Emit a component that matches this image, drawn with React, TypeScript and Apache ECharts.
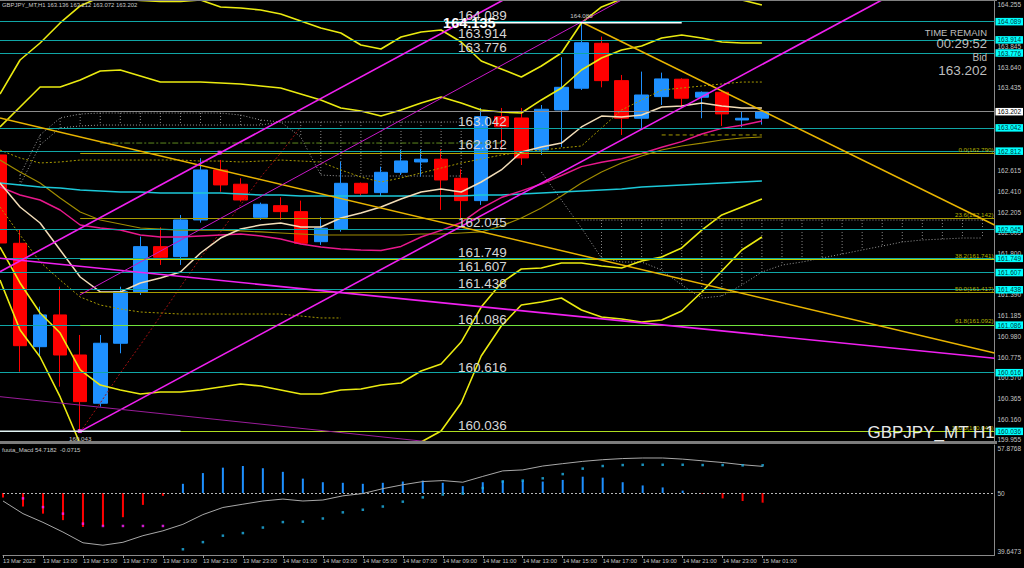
import React, { useEffect, useRef } from "react";
import * as echarts from "echarts";

// ---------------- data ----------------
const SYMBOL = "GBPJPY_MT";
const TIMEFRAME = "H1";
const TIMER = "00:29:52";
const MACD_NAME = "fuuta_Macd";
const MACD_READOUT = ["54.7182", "-0.0715"];

// bar index 0 = 13 Mar 2023 11:00, one bar per hour
const TIME_LABEL_INDEX = [0, 2, 4, 6, 8, 10, 12, 14, 16, 18, 20, 22, 24, 26, 28, 30, 32, 34, 36, 38];
const TIME_LABELS = [
  "13 Mar 2023", "13 Mar 13:00", "13 Mar 15:00", "13 Mar 17:00", "13 Mar 19:00", "13 Mar 21:00",
  "13 Mar 23:00", "14 Mar 01:00", "14 Mar 03:00", "14 Mar 05:00", "14 Mar 07:00", "14 Mar 09:00",
  "14 Mar 11:00", "14 Mar 13:00", "14 Mar 15:00", "14 Mar 17:00", "14 Mar 19:00", "14 Mar 21:00",
  "14 Mar 23:00", "15 Mar 01:00",
];

const OPEN = [162.772, 161.899, 160.877, 161.191, 160.795, 160.318, 160.911, 161.421, 161.866, 161.767, 162.130, 162.624, 162.483, 162.156, 162.271, 162.212, 161.915, 162.041, 162.492, 162.400, 162.601, 162.703, 162.730, 162.542, 162.321, 163.151, 163.138, 162.822, 163.217, 163.432, 163.876, 163.507, 163.135, 163.349, 163.521, 163.343, 163.392, 163.118, 163.136];
const HIGH = [162.790, 162.031, 161.273, 161.470, 160.993, 160.993, 161.470, 161.965, 162.057, 162.179, 162.740, 162.723, 162.542, 162.301, 162.354, 162.321, 162.156, 162.706, 162.500, 162.657, 162.822, 162.829, 162.829, 162.630, 163.237, 163.237, 163.237, 163.266, 163.738, 164.080, 163.942, 163.563, 163.596, 163.586, 163.530, 163.400, 163.400, 163.200, 163.212];
const LOW = [161.880, 160.630, 160.778, 160.482, 160.043, 160.284, 160.812, 161.388, 161.685, 161.685, 162.103, 162.409, 162.311, 162.130, 162.130, 161.890, 161.883, 162.014, 162.370, 162.367, 162.574, 162.558, 162.229, 162.130, 162.278, 162.820, 162.673, 162.772, 162.850, 163.415, 163.441, 162.970, 163.036, 163.266, 163.250, 163.135, 163.059, 163.046, 163.072];
const CLOSE = [161.902, 160.887, 161.191, 160.795, 160.334, 160.911, 161.421, 161.866, 161.761, 162.130, 162.624, 162.476, 162.327, 162.285, 162.212, 161.899, 162.048, 162.492, 162.394, 162.601, 162.713, 162.730, 162.525, 162.321, 163.151, 163.050, 162.743, 163.224, 163.441, 163.882, 163.507, 163.135, 163.365, 163.524, 163.333, 163.392, 163.178, 163.135, 163.202];

// Bollinger bands (middle = pink MA)
const BB_MID = [162.455, 162.376, 162.327, 162.228, 162.080, 162.050, 162.030, 161.981, 161.961, 161.961, 161.971, 161.981, 161.991, 161.971, 161.941, 161.892, 161.862, 161.843, 161.833, 161.828, 161.868, 161.961, 162.027, 162.104, 162.244, 162.351, 162.417, 162.485, 162.569, 162.657, 162.701, 162.734, 162.786, 162.848, 162.904, 162.979, 163.035, 163.067, 163.108];
const BB_UP2 = [163.049, 163.246, 163.444, 163.444, 163.513, 163.602, 163.612, 163.553, 163.493, 163.493, 163.493, 163.484, 163.474, 163.454, 163.434, 163.375, 163.316, 163.236, 163.207, 163.157, 163.217, 163.286, 163.345, 163.286, 163.217, 163.197, 163.187, 163.316, 163.434, 163.612, 163.731, 163.810, 163.849, 163.928, 163.958, 163.928, 163.889, 163.879, 163.879];
const BB_LO2 = [161.862, 161.507, 161.210, 161.012, 160.647, 160.498, 160.449, 160.409, 160.429, 160.429, 160.449, 160.479, 160.508, 160.488, 160.449, 160.409, 160.409, 160.449, 160.459, 160.498, 160.518, 160.637, 160.706, 160.923, 161.269, 161.507, 161.645, 161.655, 161.704, 161.704, 161.675, 161.655, 161.724, 161.764, 161.853, 162.030, 162.179, 162.258, 162.337];
const BB_UP3 = [163.375, 163.711, 163.879, 164.077, 164.245, 164.334, 164.314, 164.299, 164.289, 164.289, 164.304, 164.235, 164.225, 164.205, 164.166, 164.096, 164.027, 163.978, 163.859, 163.820, 163.938, 163.988, 164.007, 163.889, 163.701, 163.622, 163.543, 163.652, 163.780, 164.077, 164.235, 164.314, 164.452, 164.551, 164.581, 164.541, 164.442, 164.304, 164.255];
const BB_LO3 = [161.536, 161.042, 160.775, 160.380, 159.915, 159.767, 159.747, 159.663, 159.633, 159.633, 159.638, 159.727, 159.757, 159.737, 159.717, 159.688, 159.698, 159.707, 159.806, 159.836, 159.796, 159.935, 160.044, 160.320, 160.785, 161.082, 161.289, 161.319, 161.358, 161.240, 161.171, 161.151, 161.121, 161.141, 161.230, 161.418, 161.625, 161.833, 161.961];

const MA_FAST = [162.495, 162.258, 162.100, 161.833, 161.566, 161.418, 161.418, 161.507, 161.556, 161.615, 161.803, 161.951, 162.040, 162.080, 162.100, 162.060, 162.060, 162.149, 162.199, 162.258, 162.337, 162.406, 162.436, 162.406, 162.505, 162.624, 162.801, 162.851, 162.890, 163.049, 163.157, 163.148, 163.167, 163.246, 163.256, 163.286, 163.256, 163.236, 163.236];
const MA_SLOW = [162.495, 162.475, 162.455, 162.446, 162.426, 162.416, 162.406, 162.406, 162.396, 162.396, 162.396, 162.396, 162.386, 162.376, 162.376, 162.367, 162.367, 162.367, 162.367, 162.367, 162.367, 162.367, 162.367, 162.367, 162.376, 162.376, 162.386, 162.396, 162.406, 162.416, 162.426, 162.436, 162.455, 162.465, 162.475, 162.485, 162.495, 162.505, 162.515];
const MA_OLIVE = [162.722, 162.604, 162.495, 162.347, 162.208, 162.129, 162.090, 162.050, 162.040, 162.030, 162.030, 162.030, 162.021, 162.011, 162.001, 161.991, 161.981, 161.981, 161.981, 161.981, 161.981, 161.991, 161.991, 162.001, 162.011, 162.070, 162.149, 162.248, 162.367, 162.495, 162.604, 162.693, 162.762, 162.821, 162.861, 162.890, 162.920, 162.940, 162.950];

const DOTTED_A = [162.821, 162.742, 162.693, 162.703, 162.722, 162.722, 162.722, 162.722, 162.722, 162.722, 162.712, 162.712, 162.703, 162.712, 162.722, 162.712, 162.703, 162.624, 162.554, 162.505, 162.545, 162.594, 162.643, 162.693, 162.732, 162.772, 162.801, 162.821, 162.841, 162.861, 163.039, 163.217, 163.316, 163.414, 163.434, 163.454, 163.474, 163.493, 163.493];
const DOTTED_B = [162.258, 161.981, 161.714, 161.536, 161.368, 161.289, 161.250, 161.220, 161.210, 161.200, 161.200, 161.200, 161.200, 161.200, 161.200, 161.180, 161.161, 161.161];
const RED_DOTTED_START = 4;
const RED_DOTTED = [160.034, 160.320, 160.617, 160.894, 161.180, 161.467, 161.754, 162.011, 162.278, 162.554, 162.792, 163.049];

// cloud 1 (bars 1..23) and cloud 2 (bars 27..49)
const KUMO1_START = 1;
const KUMO1_TOP = [162.574, 162.970, 163.138, 163.177, 163.187, 163.187, 163.187, 163.187, 163.187, 163.187, 163.187, 163.167, 163.118, 163.098, 163.098, 163.098, 163.098, 163.098, 163.098, 163.098, 163.098, 163.098, 163.098];
const KUMO1_BOT = [162.475, 162.871, 163.039, 163.059, 163.068, 163.068, 163.068, 163.068, 163.068, 163.068, 163.068, 163.068, 163.068, 163.098, 162.950, 162.574, 162.564, 162.564, 162.564, 162.564, 162.564, 162.564, 162.564];
const KUMO2_BOT_START = 27;
const KUMO2_BOT = [162.604, 162.327, 162.050, 161.754, 161.714, 161.714, 161.635, 161.487, 161.358, 161.378, 161.487, 161.615, 161.684, 161.714, 161.754, 161.793, 161.833, 161.872, 161.912, 161.932, 161.941, 161.951, 161.951];
const KUMO2_TOP_START = 29;
const KUMO2_TOP = [162.129, 162.129, 162.129, 162.129, 162.129, 162.129, 162.129, 162.129, 162.129, 162.129, 162.129, 162.129, 162.129, 162.129, 162.129, 162.129, 162.129, 162.129, 162.129, 162.129, 162.129];

const DASHDOT_LEVEL = [5, 162.890, 25];
const SHORT_DASH_LEVEL = [33, 162.970, 38];

// trend lines: [bar1, price1, bar2, price2]
const GOLD_LINES = [[0, 163.138, 49.6, 160.815], [29, 164.087, 49.6, 162.080]];
const MAGENTA_LINES = [[0, 161.618, 25.1, 164.304], [3.98, 160.037, 43.98, 164.304], [0, 161.751, 49.6, 160.762]];
const MAGENTA_THIN = [[3.98, 161.388, 31.0, 164.304]];
const PURPLE_THIN = [[0, 160.383, 49.6, 159.348]];
const ANCHORS = [[10.95, 162.795], [3.98, 160.043]];

const H_LEVELS = [164.089, 163.914, 163.776, 163.042, 162.812, 162.045, 161.749, 161.607, 161.438, 161.086, 160.616, 160.036];
const FIB_RATIO = ["0.0", "23.6", "38.2", "50.0", "61.8", "100.0"];
const FIB_PRICE = [162.790, 162.142, 161.741, 161.417, 161.092, 160.043];
const FIB_START = 4;
const WHITE_SEG = [22.2, 164.080, 34];
const WHITE_CAPTION = "164.135";
const LOW_SEG = [0, 160.040, 9];

const PRICE_TICKS = [164.255, 163.845, 163.640, 163.435, 162.615, 162.410, 162.205, 162.005, 161.800, 161.390, 161.185, 160.980, 160.775, 160.570, 160.365, 160.160, 159.955];
const MACD_TICKS = [57.8768, 50, 39.6473];

const MACD_HIST = [49.20, 47.61, 46.35, 45.20, 44.00, 44.17, 45.72, 47.90, 49.50, 51.63, 53.53, 54.49, 54.78, 54.39, 53.75, 52.55, 51.91, 51.81, 51.63, 51.81, 52.03, 52.20, 51.81, 51.22, 51.91, 52.20, 52.20, 52.03, 52.32, 52.89, 52.72, 51.91, 51.34, 50.99, 50.43, 49.88, 49.05, 48.59, 48.30];
const MACD_LINE = [48.59, 46.35, 44.81, 43.09, 41.19, 40.76, 41.28, 42.45, 43.31, 44.46, 46.18, 47.44, 48.02, 48.59, 48.93, 48.59, 48.76, 49.50, 49.91, 50.77, 51.46, 52.03, 52.20, 51.91, 52.94, 53.92, 54.09, 54.78, 55.20, 55.60, 55.90, 56.10, 56.20, 56.20, 56.00, 55.70, 55.40, 55.00, 54.72];
const MACD_DOTS_START = 1;
const MACD_DOTS = [49.05, 47.51, 46.35, 44.58, 44.17, 44.17, 44.17, 44.17, 40.04, 41.31, 42.45, 42.91, 43.89, 44.86, 44.93, 45.49, 46.58, 47.04, 47.61, 48.47, 49.23, 49.74, 49.91, 50.88, 52.03, 52.20, 52.60, 53.35, 54.32, 54.78, 54.95, 55.00, 55.00, 55.00, 54.95, 54.95, 54.90, 54.90];
const MACD_DOTS_MAGENTA_UNTIL = 9;

// ---------------- layout / style ----------------
const FONT = "'Liberation Sans', Arial, sans-serif";
const W_RIGHT = 27;
const X_MAX = 49.6;
const Y_MIN = 159.925;
const Y_MAX = 164.304;
const BULL = "#1E90FF";
const BEAR = "#FF0000";
const AXIS_TXT = "#C4C4C4";
const LEVEL_COLOR = "#10A6A6";
const FIB_COLORS = ["#B0A000", "#A89C00", "#BCD400", "#A89C00", "#72E23C", "#AEDE20"];
const CAPTION_BAR = 22.84;

function pts(arr: number[], start = 0) {
  return arr.map((v, k) => [start + k, v]);
}
function seg(s: number[]) {
  return [[s[0], s[1]], [s[2], s[3]]];
}
function line(data: any[], color: string, width: number, type: any = "solid", z = 4) {
  return {
    type: "line", xAxisIndex: 0, yAxisIndex: 0, data, symbol: "none", showSymbol: false,
    lineStyle: { color, width, type }, z, silent: true,
  };
}

function buildOption() {
  const last = CLOSE.length - 1;
  const series: any[] = [];

  // clouds hatching
  const hatch: number[][] = [];
  KUMO1_TOP.forEach((t, k) => hatch.push([KUMO1_START + k, t, KUMO1_BOT[k]]));
  KUMO2_TOP.forEach((t, k) => {
    const i = KUMO2_TOP_START + k;
    const b = KUMO2_BOT[i - KUMO2_BOT_START];
    if (k > 0) hatch.push([i, t, b]);
  });
  series.push({
    type: "custom", xAxisIndex: 0, yAxisIndex: 0, data: hatch, z: 1, silent: true,
    renderItem: (_p: any, api: any) => {
      const a = api.coord([api.value(0), api.value(1)]);
      const b = api.coord([api.value(0), api.value(2)]);
      return { type: "line", shape: { x1: a[0], y1: a[1], x2: b[0], y2: b[1] }, style: { stroke: "#8A8A8A", lineWidth: 1, lineDash: [1, 2] } };
    },
  });
  series.push(line(pts(KUMO1_TOP, KUMO1_START), "#9A9A9A", 1, [1, 2], 1));
  series.push(line(pts(KUMO1_BOT, KUMO1_START), "#9A9A9A", 1, [1, 2], 1));
  series.push(line(pts(KUMO2_TOP, KUMO2_TOP_START), "#9A9A9A", 1, [1, 2], 1));
  series.push(line(pts(KUMO2_BOT, KUMO2_BOT_START), "#9A9A9A", 1, [1, 2], 1));

  // candles
  series.push({
    type: "candlestick", xAxisIndex: 0, yAxisIndex: 0, silent: true, z: 2,
    dimensions: ["idx", "open", "close", "lowest", "highest"],
    encode: { x: 0, y: [1, 2, 3, 4] },
    data: OPEN.map((o, i) => [i, o, CLOSE[i], LOW[i], HIGH[i]]),
    barWidth: 14,
    itemStyle: { color: BULL, color0: BEAR, borderColor: BULL, borderColor0: BEAR, borderWidth: 1 },
  });

  const tag = (bg: string, fg: string, text: string) => ({
    show: true, position: "end", distance: 1, formatter: text, backgroundColor: bg, color: fg,
    fontSize: 6.5, fontFamily: FONT, lineHeight: 6.5, padding: [1, 2, 0, 2],
  });

  // levels with right tags
  series.push({
    type: "line", xAxisIndex: 0, yAxisIndex: 0, data: [], z: 5, silent: true,
    markLine: {
      symbol: ["none", "none"], silent: true, animation: false,
      data: [
        ...H_LEVELS.map((p) => ({
          yAxis: p, lineStyle: { color: LEVEL_COLOR, width: 1, type: "solid" },
          label: tag("#00FFFF", "#003838", p.toFixed(3)),
        })),
        {
          yAxis: CLOSE[last], lineStyle: { color: "#8C8C8C", width: 1, type: "solid" },
          label: tag("#FFFFFF", "#000000", CLOSE[last].toFixed(3)),
        },
      ],
    },
  });

  // fibonacci
  series.push({
    type: "line", xAxisIndex: 0, yAxisIndex: 0, data: [], z: 6, silent: true,
    markLine: {
      symbol: ["none", "none"], silent: true, animation: false,
      data: FIB_PRICE.map((p, k) => [
        {
          coord: [FIB_START, p], lineStyle: { color: FIB_COLORS[k], width: 1, type: "solid" },
          label: { show: true, position: "insideEndTop", distance: 1, formatter: `${FIB_RATIO[k]}(${p.toFixed(3)})`, color: "#B4B400", fontSize: 6.2, fontFamily: FONT },
        },
        { coord: [X_MAX, p] },
      ]),
    },
  });

  // other dotted / dashed indicator lines
  series.push(line(pts(DOTTED_A), "#A89A00", 1, [2, 2], 3));
  series.push(line(pts(DOTTED_B), "#A89A00", 1, [2, 2], 3));
  series.push(line(pts(RED_DOTTED, RED_DOTTED_START), "#A01010", 1, [2, 2], 3));
  series.push(line([[DASHDOT_LEVEL[0], DASHDOT_LEVEL[1]], [DASHDOT_LEVEL[2], DASHDOT_LEVEL[1]]], "#5E8A1E", 1, [6, 2, 2, 2], 3));
  series.push(line([[SHORT_DASH_LEVEL[0], SHORT_DASH_LEVEL[1]], [SHORT_DASH_LEVEL[2], SHORT_DASH_LEVEL[1]]], "#A89A00", 1, [4, 3], 3));

  // moving averages
  series.push(line(pts(MA_OLIVE), "#A08C00", 1.2, "solid", 4));
  series.push(line(pts(MA_SLOW), "#1CC8D8", 1.5, "solid", 4));
  series.push(line(pts(BB_MID), "#E8188C", 1.5, "solid", 4));
  series.push(line(pts(MA_FAST), "#F2DDB8", 1.5, "solid", 4));

  // bollinger bands
  [BB_UP2, BB_LO2, BB_UP3, BB_LO3].forEach((b) => series.push(line(pts(b), "#EAEA10", 1.6, "solid", 4)));

  // trend lines
  GOLD_LINES.forEach((s) => series.push(line(seg(s), "#E8B400", 1.5, "solid", 5)));
  MAGENTA_LINES.forEach((s) => series.push(line(seg(s), "#F020F0", 1.6, "solid", 5)));
  MAGENTA_THIN.forEach((s) => series.push(line(seg(s), "#C818C8", 1, "solid", 5)));
  PURPLE_THIN.forEach((s) => series.push(line(seg(s), "#9A1C9A", 1, "solid", 5)));
  series.push({
    type: "scatter", xAxisIndex: 0, yAxisIndex: 0, data: ANCHORS, symbol: "rect", symbolSize: 4,
    itemStyle: { color: "#FF40FF" }, z: 6, silent: true,
  });

  // white segments
  series.push(line([[WHITE_SEG[0], WHITE_SEG[1]], [WHITE_SEG[2], WHITE_SEG[1]]], "#FFFFFF", 1.5, "solid", 7));
  series.push(line([[LOW_SEG[0], LOW_SEG[1]], [LOW_SEG[2], LOW_SEG[1]]], "#E2F4F4", 1.5, "solid", 7));

  // big level captions
  series.push({
    type: "custom", xAxisIndex: 0, yAxisIndex: 0, z: 10, silent: true,
    data: H_LEVELS.map((p) => [CAPTION_BAR, p]),
    renderItem: (_p: any, api: any) => {
      const pt = api.coord([api.value(0), api.value(1)]);
      return {
        type: "text", x: pt[0], y: pt[1] + 1,
        style: { text: api.value(1).toFixed(3), fill: "#D6D6D6", fontSize: 13.5, fontFamily: FONT, align: "left", verticalAlign: "bottom" },
      };
    },
  });
  series.push({
    type: "custom", xAxisIndex: 0, yAxisIndex: 0, z: 11, silent: true,
    data: [[WHITE_SEG[0], WHITE_SEG[1]]],
    renderItem: (_p: any, api: any) => {
      const pt = api.coord([api.value(0), api.value(1)]);
      return {
        type: "text", x: pt[0] - 2, y: pt[1],
        style: { text: WHITE_CAPTION, fill: "#FFFFFF", fontSize: 14.5, fontWeight: "bold", fontFamily: FONT, align: "left", verticalAlign: "middle" },
      };
    },
  });
  // high / low annotations
  series.push({
    type: "custom", xAxisIndex: 0, yAxisIndex: 0, z: 11, silent: true,
    data: [[4, LOW[4], 1], [29, HIGH[29], -1]],
    renderItem: (_p: any, api: any) => {
      const pt = api.coord([api.value(0), api.value(1)]);
      const d = api.value(2);
      return {
        type: "text", x: pt[0], y: pt[1] + d * 7,
        style: { text: api.value(1).toFixed(3), fill: "#C8C8C8", fontSize: 6.2, fontFamily: FONT, align: "center", verticalAlign: "middle" },
      };
    },
  });

  // ---------- MACD panel ----------
  series.push({
    type: "custom", xAxisIndex: 1, yAxisIndex: 1, z: 3, silent: true,
    data: pts(MACD_HIST),
    renderItem: (_p: any, api: any) => {
      const v = api.value(1);
      const a = api.coord([api.value(0), 50]);
      const b = api.coord([api.value(0), v]);
      return { type: "line", shape: { x1: a[0], y1: a[1], x2: b[0], y2: b[1] }, style: { stroke: v >= 50 ? BULL : BEAR, lineWidth: 2 } };
    },
  });
  series.push({
    type: "line", xAxisIndex: 1, yAxisIndex: 1, data: pts(MACD_LINE), symbol: "none", z: 4, silent: true,
    lineStyle: { color: "#A8A8A8", width: 1 },
    markLine: {
      symbol: ["none", "none"], silent: true, animation: false, label: { show: false },
      data: [{ yAxis: 50 }], lineStyle: { color: "#B8B8B8", width: 1, type: [2, 2] },
    },
  });
  series.push({
    type: "scatter", xAxisIndex: 1, yAxisIndex: 1, symbol: "rect", symbolSize: 2.5, z: 5, silent: true,
    data: MACD_DOTS.map((v, k) => {
      const i = MACD_DOTS_START + k;
      return { value: [i, v], itemStyle: { color: i < MACD_DOTS_MAGENTA_UNTIL ? "#FF20FF" : "#20B4E8" } };
    }),
  });

  const small = { fontSize: 6.5, fontFamily: FONT, color: AXIS_TXT };

  return {
    animation: false,
    backgroundColor: "#000000",
    textStyle: { fontFamily: FONT },
    grid: [
      { left: 0, right: W_RIGHT, top: 0, height: 443 },
      { left: 0, right: W_RIGHT, top: 445, height: 110 },
    ],
    xAxis: [
      { type: "value", gridIndex: 0, min: 0, max: X_MAX, show: false },
      {
        type: "value", gridIndex: 1, min: 0, max: X_MAX, splitLine: { show: false },
        axisLine: { show: true, onZero: false, lineStyle: { color: "#8A8A8A" } },
        axisTick: { show: true, customValues: TIME_LABEL_INDEX, length: 3, lineStyle: { color: "#9A9A9A" } },
        axisLabel: {
          ...small, fontSize: 5.8, customValues: TIME_LABEL_INDEX, align: "left", margin: 3,
          formatter: (v: number) => {
            const k = TIME_LABEL_INDEX.indexOf(Math.round(v));
            return k >= 0 ? TIME_LABELS[k] : "";
          },
        },
      },
    ],
    yAxis: [
      {
        type: "value", gridIndex: 0, position: "right", min: Y_MIN, max: Y_MAX, splitLine: { show: false },
        axisLine: { show: true, onZero: false, lineStyle: { color: "#8A8A8A" } },
        axisTick: { show: false },
        axisLabel: { ...small, customValues: PRICE_TICKS, margin: 3, formatter: (v: number) => v.toFixed(3) },
      },
      {
        type: "value", gridIndex: 1, position: "right", min: 39.03, max: 58.5, splitLine: { show: false },
        axisLine: { show: true, onZero: false, lineStyle: { color: "#8A8A8A" } },
        axisTick: { show: false },
        axisLabel: { ...small, customValues: MACD_TICKS, margin: 3, formatter: (v: number) => String(v) },
      },
    ],
    graphic: [
      { type: "rect", shape: { x: 0, y: 0, width: 997, height: 1 }, style: { fill: "#808080" }, z: 50, silent: true },
      { type: "rect", shape: { x: 0, y: 441, width: 997, height: 3 }, style: { fill: "#7C7C7C" }, z: 50, silent: true },
      {
        type: "text", left: 2, top: 2, z: 50, silent: true,
        style: { text: `${SYMBOL},${TIMEFRAME} ${OPEN[last].toFixed(3)} ${HIGH[last].toFixed(3)} ${LOW[last].toFixed(3)} ${CLOSE[last].toFixed(3)}`, fill: "#C8C8C8", fontSize: 5.9, fontFamily: FONT },
      },
      {
        type: "text", left: 2, top: 447, z: 50, silent: true,
        style: { text: `${MACD_NAME} ${MACD_READOUT[0]}  ${MACD_READOUT[1]}`, fill: "#C8C8C8", fontSize: 6, fontFamily: FONT },
      },
      { type: "text", right: 37, top: 27, z: 50, silent: true, style: { text: "TIME REMAIN", fill: "#BEBEBE", fontSize: 9.5, fontFamily: FONT } },
      { type: "text", right: 37, top: 37, z: 50, silent: true, style: { text: TIMER, fill: "#BEBEBE", fontSize: 13, fontFamily: FONT } },
      { type: "text", right: 37, top: 52, z: 50, silent: true, style: { text: "Bid", fill: "#BEBEBE", fontSize: 10, fontFamily: FONT } },
      { type: "text", right: 37, top: 63, z: 50, silent: true, style: { text: CLOSE[last].toFixed(3), fill: "#BEBEBE", fontSize: 13.5, fontFamily: FONT } },
      { type: "text", right: 29, top: 424, z: 50, silent: true, style: { text: `${SYMBOL} ${TIMEFRAME}`, fill: "#E8E8E8", fontSize: 17, fontFamily: FONT } },
    ],
    series,
  };
}

export default function App() {
  const ref = useRef<HTMLDivElement>(null);
  useEffect(() => {
    document.body.style.margin = "0";
    document.body.style.background = "#000";
    const chart = echarts.init(ref.current!, null, { renderer: "svg" });
    chart.setOption(buildOption() as any);
    return () => chart.dispose();
  }, []);
  return <div ref={ref} style={{ width: 1024, height: 568, background: "#000" }} />;
}
